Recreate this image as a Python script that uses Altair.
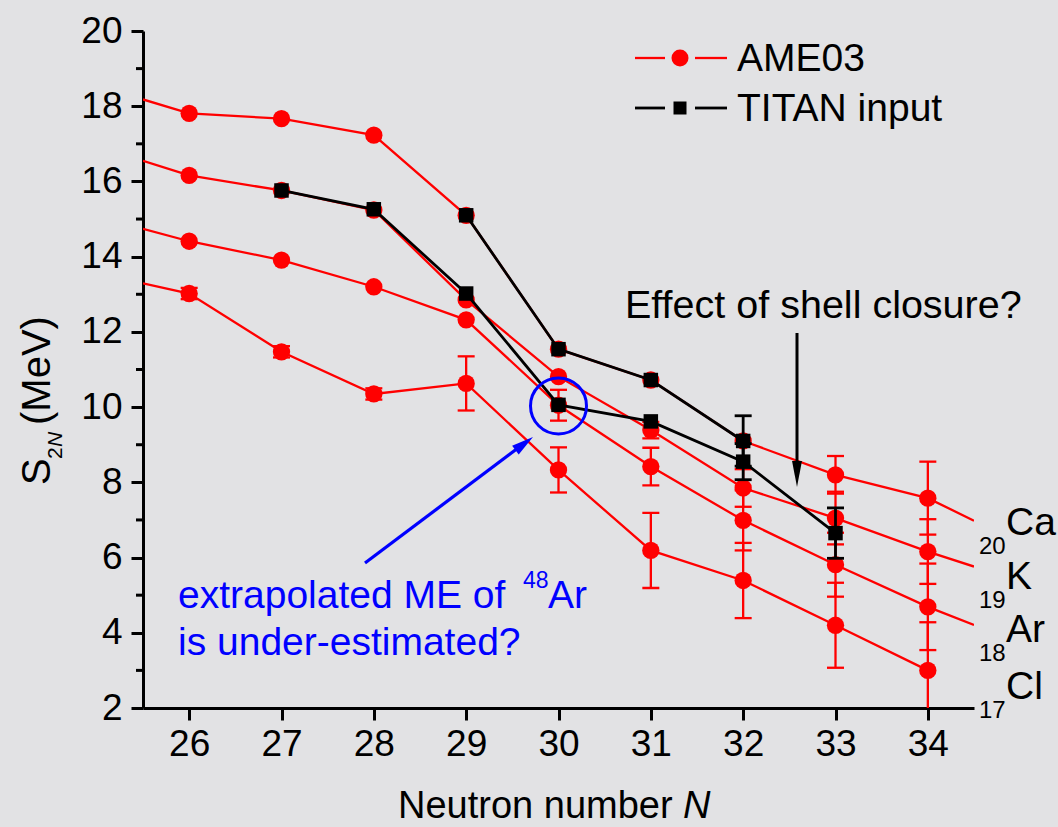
import altair as alt
import pandas as pd

# ---------------- data ----------------
N = [26, 27, 28, 29, 30, 31, 32, 33, 34]
elements = ["Ca", "K", "Ar", "Cl"]

ame_ca = [17.81, 17.67, 17.23, 15.10, 11.54, 10.72, 9.10, 8.20, 7.58]
ame_k = [16.16, 15.76, 15.24, 12.85, 10.81, 9.39, 7.85, 7.05, 6.16]
ame_ar = [14.41, 13.91, 13.20, 12.32, 10.05, 8.42, 6.99, 5.81, 4.69]
ame_cl = [13.02, 11.47, 10.35, 10.63, 8.33, 6.19, 5.39, 4.20, 3.00]

err_ca = [0.05, 0.05, 0.05, 0.05, 0.05, 0.05, 0.10, 0.50, 0.97]
err_k = [0.05, 0.05, 0.05, 0.05, 0.05, 0.22, 0.50, 0.70, 0.86]
err_ar = [0.05, 0.05, 0.05, 0.05, 0.41, 0.50, 0.80, 0.85, 1.15]
err_cl = [0.15, 0.15, 0.15, 0.72, 0.60, 1.00, 1.00, 1.13, 1.28]

# continuation of the AME03 lines to the frame edges (N = 25.5 and 34.5)
edge_N = [25.5, 34.5]
edge_ca = [18.18, 6.98]
edge_k = [16.55, 5.76]
edge_ar = [14.74, 4.21]
edge_cl = [13.29, None]

titan_ca_N = [29, 30, 31, 32]
titan_ca = [15.10, 11.54, 10.72, 9.10]
titan_ca_err = [0.05, 0.05, 0.05, 0.67]
titan_k_N = [27, 28, 29, 30, 31, 32, 33]
titan_k = [15.76, 15.26, 13.02, 10.06, 9.62, 8.55, 6.65]
titan_k_err = [0.05, 0.05, 0.05, 0.05, 0.05, 0.48, 0.67]

y_major = [2, 4, 6, 8, 10, 12, 14, 16, 18, 20]
y_minor = [3, 5, 7, 9, 11, 13, 15, 17, 19]
circled = {"N": 30, "S": 10.03}

# ---------------- tables ----------------
ame_vals = dict(zip(elements, [ame_ca, ame_k, ame_ar, ame_cl]))
ame_errs = dict(zip(elements, [err_ca, err_k, err_ar, err_cl]))
ame_edges = dict(zip(elements, [edge_ca, edge_k, edge_ar, edge_cl]))

pts_rows, line_rows = [], []
for el in elements:
    for n, s, e in zip(N, ame_vals[el], ame_errs[el]):
        pts_rows.append({"el": el, "N": n, "S": s, "err": e, "lo": s - e, "hi": s + e})
        line_rows.append({"el": el, "N": n, "S": s})
    for n, s in zip(edge_N, ame_edges[el]):
        if s is not None:
            line_rows.append({"el": el, "N": n, "S": s})
ame_pts = pd.DataFrame(pts_rows)
ame_line = pd.DataFrame(line_rows)

t_rows = []
for el, ns, vs, es in [("Ca", titan_ca_N, titan_ca, titan_ca_err),
                       ("K", titan_k_N, titan_k, titan_k_err)]:
    for n, s, e in zip(ns, vs, es):
        t_rows.append({"el": el, "N": n, "S": s, "err": e, "lo": s - e, "hi": s + e})
titan = pd.DataFrame(t_rows)


def caps_of(df):
    big = df[df["err"] > 0.1]
    return big.melt(id_vars=["el", "N"], value_vars=["lo", "hi"], value_name="cap")


ame_caps = caps_of(ame_pts)
titan_caps = caps_of(titan)
ame_bars = ame_pts[ame_pts["err"] > 0.1]
titan_bars = titan[titan["err"] > 0.1]

# ---------------- styling ----------------
FONT = "Liberation Sans"
RED = "#ff0000"
BLUE = "#0000ff"
PL, PT = 143, 31          # plot origin in the page
W, H = 831, 677

xax = alt.Axis(values=N, title=None, grid=False, tickSize=12, tickWidth=3,
               tickColor="black", domainColor="black", domainWidth=3,
               labelFont=FONT, labelFontSize=37, labelColor="black",
               labelPadding=6, labelFlush=False)
yax = alt.Axis(values=y_major, title=None, grid=False, tickSize=12, tickWidth=3,
               tickColor="black", domainColor="black", domainWidth=3,
               labelFont=FONT, labelFontSize=37, labelColor="black",
               labelPadding=9, labelFlush=False)
xs = alt.Scale(domain=[25.5, 34.5], nice=False, zero=False)
ys = alt.Scale(domain=[2, 20], nice=False, zero=False)


def X(f="N"):
    return alt.X(f"{f}:Q", scale=xs, axis=xax, title=None)


def Y(f):
    return alt.Y(f"{f}:Q", scale=ys, axis=yax, title=None)


one = pd.DataFrame({"k": [0]})


def txt(t, x, y, size, color="black", align="left", baseline="middle", angle=None, style=None):
    kw = dict(text=t, fontSize=size, font=FONT, color=color, align=align, baseline=baseline)
    if angle is not None:
        kw["angle"] = angle
    if style:
        kw["fontStyle"] = style
    return alt.Chart(one).mark_text(**kw).encode(x=alt.value(x - PL), y=alt.value(y - PT))


def seg(x1, y1, x2, y2, color, width):
    return alt.Chart(one).mark_rule(color=color, strokeWidth=width).encode(
        x=alt.value(x1 - PL), y=alt.value(y1 - PT), x2=alt.value(x2 - PL), y2=alt.value(y2 - PT))


def sym(x, y, shape, size, color, angle=None, filled=True, stroke_w=None):
    kw = dict(shape=shape, size=size, filled=filled, opacity=1)
    if filled:
        kw["color"] = color
        kw["strokeWidth"] = 0
    else:
        kw["stroke"] = color
        kw["strokeWidth"] = stroke_w
    if angle is not None:
        kw["angle"] = angle
    return alt.Chart(one).mark_point(**kw).encode(x=alt.value(x - PL), y=alt.value(y - PT))


# ---------------- layers ----------------
red_lines = alt.Chart(ame_line).mark_line(color=RED, strokeWidth=2.3, clip=True).encode(
    x=X(), y=Y("S"), detail="el:N", order="N:Q")
red_bars = alt.Chart(ame_bars).mark_rule(color=RED, strokeWidth=2.3, clip=True).encode(
    x=X(), y=Y("lo"), y2="hi:Q")
red_caps = alt.Chart(ame_caps).mark_tick(color=RED, thickness=2.3, size=17, orient="horizontal",
                                          clip=True, opacity=1).encode(x=X(), y=Y("cap"))
red_pts = alt.Chart(ame_pts).mark_point(shape="circle", filled=True, size=300, color=RED,
                                        opacity=1).encode(x=X(), y=Y("S"))

blk_lines = alt.Chart(titan).mark_line(color="black", strokeWidth=2.8).encode(
    x=X(), y=Y("S"), detail="el:N", order="N:Q")
blk_bars = alt.Chart(titan_bars).mark_rule(color="black", strokeWidth=2.8).encode(
    x=X(), y=Y("lo"), y2="hi:Q")
blk_caps = alt.Chart(titan_caps).mark_tick(color="black", thickness=2.8, size=17,
                                           orient="horizontal", opacity=1).encode(x=X(), y=Y("cap"))
blk_pts = alt.Chart(titan).mark_point(shape="square", filled=True, size=210, color="black",
                                      opacity=1).encode(x=X(), y=Y("S"))

minor = alt.Chart(pd.DataFrame({"v": y_minor})).mark_rule(color="black", strokeWidth=3).encode(
    y=Y("v"), x=alt.value(-7), x2=alt.value(0))

circle = alt.Chart(pd.DataFrame([circled])).mark_point(
    shape="circle", filled=False, size=3136, stroke=BLUE, strokeWidth=3, opacity=1).encode(
    x=X(), y=Y("S"))

layers = [minor, red_lines, red_bars, red_caps, red_pts, blk_lines, blk_bars, blk_caps, blk_pts, circle]

# legend
layers += [
    seg(635, 58, 665, 58, RED, 2.3), seg(695, 58, 727, 58, RED, 2.3),
    sym(680, 58, "circle", 289, RED),
    txt("AME03", 737, 59, 39),
    seg(635, 108, 665, 108, "black", 2.8), seg(695, 108, 727, 108, "black", 2.8),
    sym(680, 108, "square", 169, "black"),
    txt("TITAN input", 737, 109, 39),
]

# element labels at the right
for name, sub, yc in [("Ca", "20", 523), ("K", "19", 577), ("Ar", "18", 630), ("Cl", "17", 687)]:
    layers += [txt(sub, 979, yc + 24, 24), txt(name, 1006, yc, 39)]

# shell closure annotation
layers += [
    txt("Effect of shell closure?", 625, 306, 39.5),
    seg(797, 333, 797, 470, "black", 3),
    sym(797, 474, "M-0.38,-1L0.38,-1L0,1Z", 676, "black"),
]

# blue annotation
layers += [
    seg(365, 563, 522, 445, BLUE, 3.2),
    sym(524.2, 443.6, "M-0.5,1L0.5,1L0,-1Z", 484, BLUE, angle=53),
    txt("extrapolated ME of", 178, 608, 39, color=BLUE, baseline="alphabetic"),
    txt("48", 523, 588, 23, color=BLUE, baseline="alphabetic"),
    txt("Ar", 548, 608, 39, color=BLUE, baseline="alphabetic"),
    txt("is under-estimated?", 178, 655, 39, color=BLUE, baseline="alphabetic"),
]

# axis titles
layers += [
    txt("Neutron number ", 398, 818, 38, baseline="alphabetic"),
    txt("N", 683, 818, 38, baseline="alphabetic", style="italic"),
    txt("S", 50, 485, 40, baseline="alphabetic", angle=270),
    txt("2", 62, 459, 21, baseline="alphabetic", angle=270),
    txt("N", 62, 447, 21, baseline="alphabetic", angle=270, style="italic"),
    txt("(MeV)", 50, 425, 40, baseline="alphabetic", angle=270),
]

chart = alt.layer(*layers).properties(
    width=W, height=H,
    autosize=alt.AutoSizeParams(type="none"),
    padding={"left": PL, "top": PT, "right": 1058 - PL - W, "bottom": 827 - PT - H},
).configure(background="#e2e2e4").configure_view(stroke=None)

chart.save("out.html", embed_options={"renderer": "svg", "actions": False})
